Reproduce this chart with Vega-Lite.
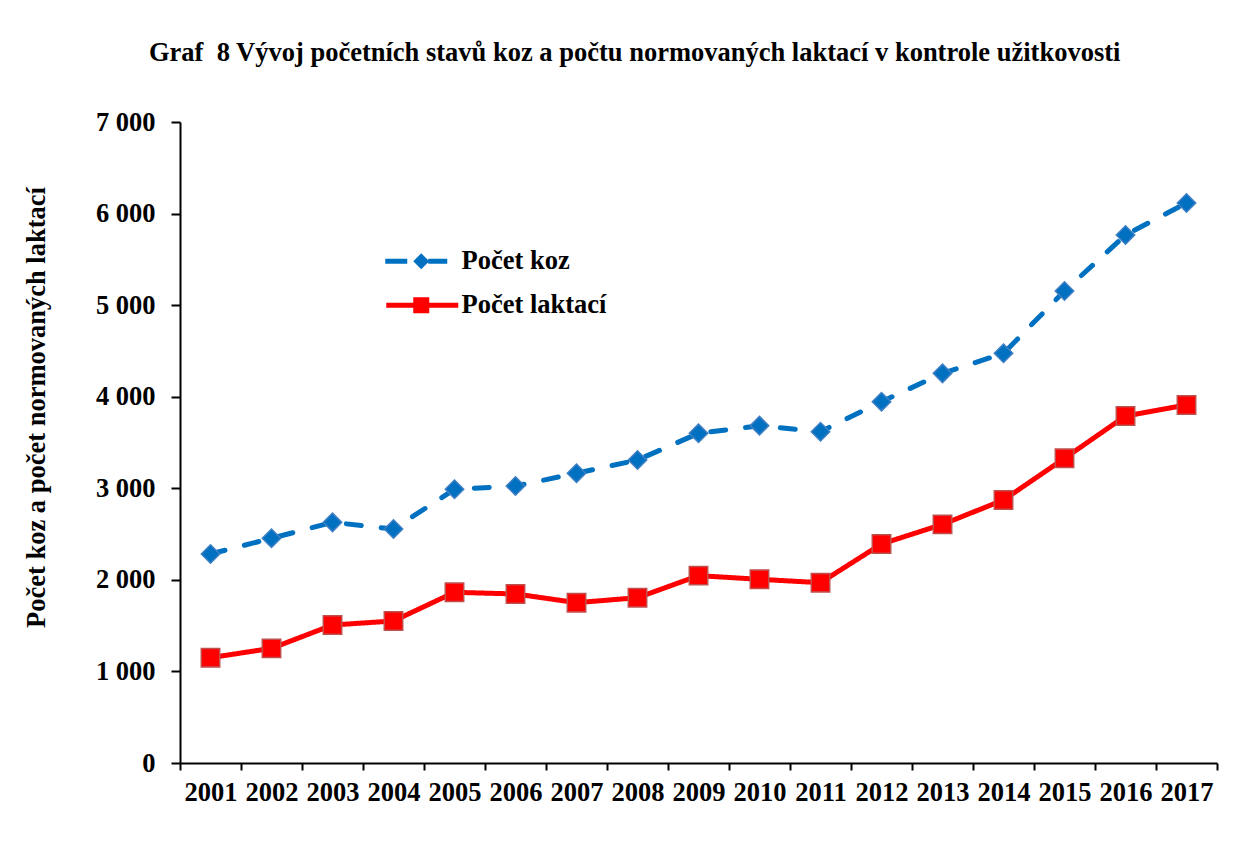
{
  "$schema": "https://vega.github.io/schema/vega-lite/v6.json",
  "width": 1037,
  "height": 641,
  "autosize": {"type": "none"},
  "padding": {"left": 180, "top": 122, "right": 31, "bottom": 95},
  "background": "white",
  "title": {
    "text": "Graf\u00a0 8 Vývoj početních stavů koz a počtu normovaných laktací v kontrole užitkovosti",
    "font": "Liberation Serif",
    "fontSize": 26.5,
    "fontWeight": "bold",
    "color": "black",
    "anchor": "middle",
    "frame": "bounds",
    "offset": 43,
    "dx": 14
  },
  "config": {
    "view": {"stroke": null},
    "axis": {
      "labelFont": "Liberation Serif",
      "labelFontSize": 26.5,
      "labelFontWeight": "bold",
      "labelColor": "black",
      "titleFont": "Liberation Serif",
      "titleFontSize": 26.5,
      "titleFontWeight": "bold",
      "titleColor": "black",
      "domainColor": "black",
      "domainWidth": 2,
      "tickColor": "black",
      "tickWidth": 2,
      "grid": false
    },
    "legend": {
      "labelFont": "Liberation Serif",
      "labelFontSize": 26.5,
      "labelFontWeight": "bold",
      "labelColor": "black"
    }
  },
  "data": {
    "values": [
      {"year": "2001", "series": "Počet koz", "value": 2282},
      {"year": "2002", "series": "Počet koz", "value": 2454},
      {"year": "2003", "series": "Počet koz", "value": 2628},
      {"year": "2004", "series": "Počet koz", "value": 2555},
      {"year": "2005", "series": "Počet koz", "value": 2989},
      {"year": "2006", "series": "Počet koz", "value": 3025},
      {"year": "2007", "series": "Počet koz", "value": 3164},
      {"year": "2008", "series": "Počet koz", "value": 3309},
      {"year": "2009", "series": "Počet koz", "value": 3600},
      {"year": "2010", "series": "Počet koz", "value": 3684},
      {"year": "2011", "series": "Počet koz", "value": 3618},
      {"year": "2012", "series": "Počet koz", "value": 3946},
      {"year": "2013", "series": "Počet koz", "value": 4255},
      {"year": "2014", "series": "Počet koz", "value": 4474},
      {"year": "2015", "series": "Počet koz", "value": 5154},
      {"year": "2016", "series": "Počet koz", "value": 5766},
      {"year": "2017", "series": "Počet koz", "value": 6115},
      {"year": "2001", "series": "Počet laktací", "value": 1150},
      {"year": "2002", "series": "Počet laktací", "value": 1252},
      {"year": "2003", "series": "Počet laktací", "value": 1507},
      {"year": "2004", "series": "Počet laktací", "value": 1551},
      {"year": "2005", "series": "Počet laktací", "value": 1864},
      {"year": "2006", "series": "Počet laktací", "value": 1846},
      {"year": "2007", "series": "Počet laktací", "value": 1751},
      {"year": "2008", "series": "Počet laktací", "value": 1805},
      {"year": "2009", "series": "Počet laktací", "value": 2046},
      {"year": "2010", "series": "Počet laktací", "value": 2006},
      {"year": "2011", "series": "Počet laktací", "value": 1969},
      {"year": "2012", "series": "Počet laktací", "value": 2392},
      {"year": "2013", "series": "Počet laktací", "value": 2606},
      {"year": "2014", "series": "Počet laktací", "value": 2872},
      {"year": "2015", "series": "Počet laktací", "value": 3327},
      {"year": "2016", "series": "Počet laktací", "value": 3789},
      {"year": "2017", "series": "Počet laktací", "value": 3910}
    ]
  },
  "encoding": {
    "x": {
      "field": "year",
      "type": "nominal",
      "bandPosition": 0.5,
      "scale": {"type": "band", "paddingInner": 0, "paddingOuter": 0},
      "axis": {
        "title": null,
        "labelAngle": 0,
        "tickBand": "extent",
        "tickSize": 7,
        "labelPadding": 9
      }
    },
    "y": {
      "field": "value",
      "type": "quantitative",
      "scale": {"domain": [0, 7000]},
      "axis": {
        "title": "Počet koz a počet normovaných laktací",
        "values": [0, 1000, 2000, 3000, 4000, 5000, 6000, 7000],
        "labelExpr": "replace(format(datum.value, ',d'), ',', ' ')",
        "tickSize": 9,
        "labelPadding": 16,
        "titlePadding": 45,
        "titleY": 285
      }
    }
  },
  "layer": [
    {
      "mark": {"type": "line", "strokeWidth": 5, "strokeCap": "round", "strokeJoin": "round"},
      "encoding": {
        "color": {
          "field": "series",
          "type": "nominal",
          "scale": {"domain": ["Počet koz", "Počet laktací"], "range": ["#0070C0", "#FF0000"]},
          "legend": {
            "title": null,
            "orient": "none",
            "legendX": 228,
            "legendY": 126,
            "padding": 0,
            "symbolSize": 256,
            "symbolOffset": 0,
            "symbolStrokeWidth": 0,
            "labelOffset": 27,
            "rowPadding": 17,
            "encode": {
              "symbols": {
                "update": {
                  "shape": {"signal": "datum.value === 'Počet koz' ? 'M-4.5,-0.3125L-1.75,-0.3125L-1.75,0.3125L-4.5,0.3125Z M0.875,-0.3125L3.25,-0.3125L3.25,0.3125L0.875,0.3125Z M-1,0L0,-1L1,0L0,1Z' : 'M-4.375,-0.3125L4.625,-0.3125L4.625,0.3125L-4.375,0.3125Z M-1,-1L1,-1L1,1L-1,1Z'"},
                  "fill": {"signal": "datum.value === 'Počet koz' ? '#0070C0' : '#FF0000'"},
                  "stroke": {"value": "transparent"},
                  "strokeWidth": {"value": 0},
                  "size": {"value": 256},
                  "opacity": {"value": 1}
                }
              }
            }
          }
        },
        "strokeDash": {
          "field": "series",
          "type": "nominal",
          "scale": {"domain": ["Počet koz", "Počet laktací"], "range": [[15, 20], [1, 0]]},
          "legend": null
        }
      }
    },
    {
      "mark": {"type": "point", "filled": true, "opacity": 1, "size": 340, "strokeWidth": 1.5},
      "encoding": {
        "color": {"field": "series", "type": "nominal"},
        "shape": {
          "condition": {"test": "datum.series === 'Počet koz'", "value": "diamond"},
          "value": "square"
        },
        "stroke": {
          "condition": {"test": "datum.series === 'Počet koz'", "value": "#3F7FC4"},
          "value": "#C0504D"
        }
      }
    }
  ]
}
